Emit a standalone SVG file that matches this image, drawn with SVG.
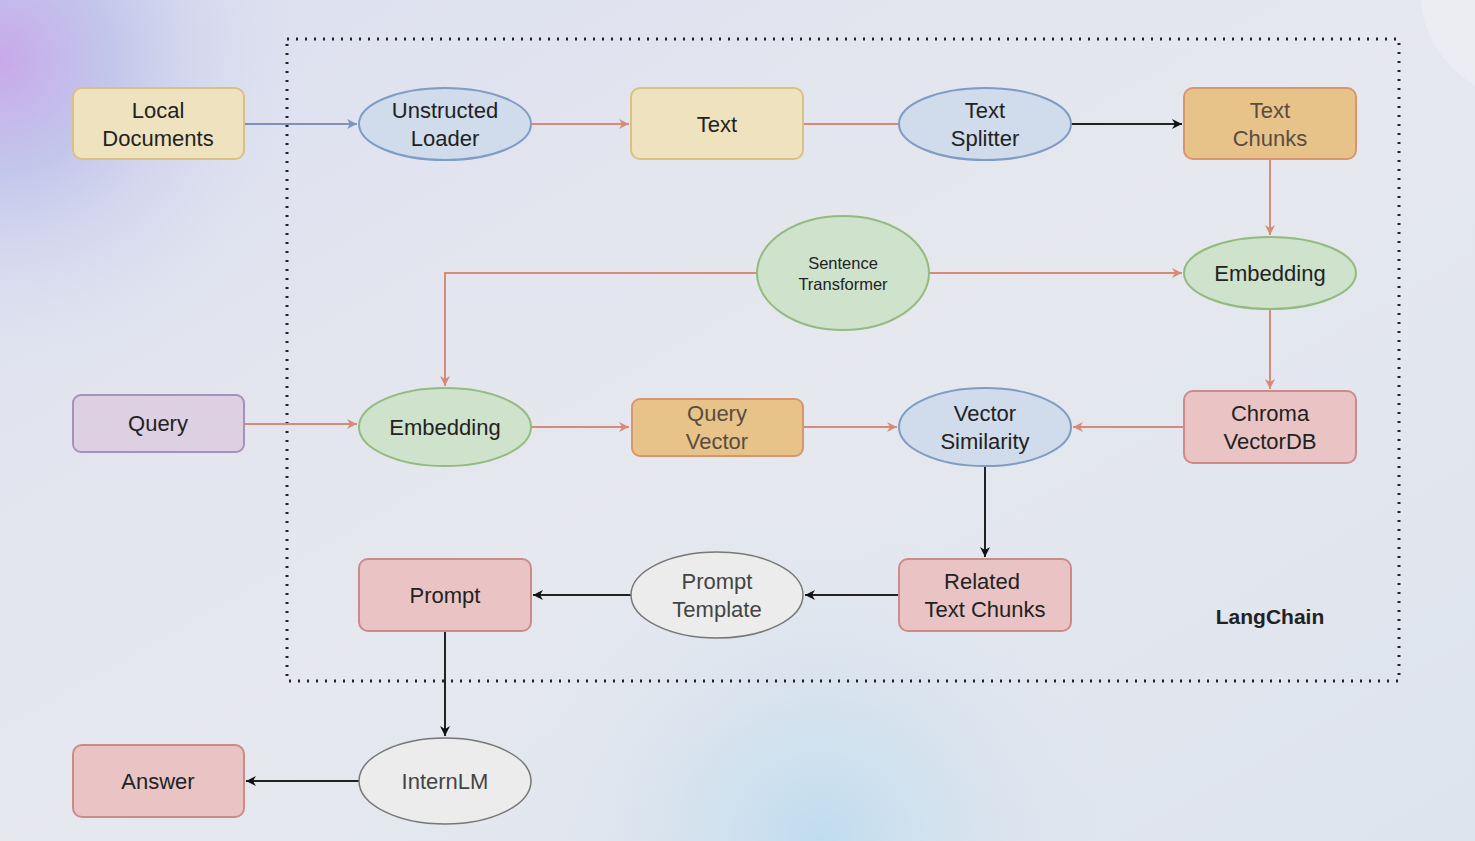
<svg xmlns="http://www.w3.org/2000/svg" width="1475" height="841" viewBox="0 0 1475 841">
  <defs>
    <linearGradient id="bg" x1="0" y1="0" x2="1" y2="1">
      <stop offset="0" stop-color="#dcdff0"/>
      <stop offset="0.5" stop-color="#e6e8ee"/>
      <stop offset="1" stop-color="#dde4ee"/>
    </linearGradient>
    <radialGradient id="purple" cx="0" cy="60" r="320" gradientUnits="userSpaceOnUse">
      <stop offset="0" stop-color="#c9a8ea"/>
      <stop offset="0.35" stop-color="#bcc0ea" stop-opacity="0.8"/>
      <stop offset="1" stop-color="#dfe2f0" stop-opacity="0"/>
    </radialGradient>
    <radialGradient id="blue" cx="820" cy="841" r="320" gradientUnits="userSpaceOnUse">
      <stop offset="0" stop-color="#bfdcef"/>
      <stop offset="1" stop-color="#dfe6ef" stop-opacity="0"/>
    </radialGradient>
    <marker id="aSal" viewBox="0 0 10 10" refX="10" refY="5" markerWidth="10" markerHeight="10" markerUnits="userSpaceOnUse" orient="auto">
      <path d="M0,0 L10,5 L0,10 L3,5 Z" fill="#d98a76"/>
    </marker>
    <marker id="aBlue" viewBox="0 0 10 10" refX="10" refY="5" markerWidth="10" markerHeight="10" markerUnits="userSpaceOnUse" orient="auto">
      <path d="M0,0 L10,5 L0,10 L3,5 Z" fill="#7b93bb"/>
    </marker>
    <marker id="aBlk" viewBox="0 0 10 10" refX="10" refY="5" markerWidth="10" markerHeight="10" markerUnits="userSpaceOnUse" orient="auto">
      <path d="M0,0 L10,5 L0,10 L3,5 Z" fill="#111"/>
    </marker>
  </defs>
  <style>
    text { font-family: "Liberation Sans", Arial, sans-serif; font-size: 22px; fill: #222; text-anchor: middle; }
    .dim { fill: #5a4c40; }
    .small { font-size: 16.5px; }
    .bold { font-weight: bold; font-size: 21px; }
    .yellow { fill: #efe3bf; stroke: #d8c283; stroke-width: 2; }
    .orange { fill: #e7c38a; stroke: #d9956e; stroke-width: 2; }
    .pink { fill: #eac4c4; stroke: #cc8a88; stroke-width: 2; }
    .purple { fill: #ddd0e2; stroke: #a891b6; stroke-width: 2; }
    .blue { fill: #d0dcec; stroke: #7e9cc4; stroke-width: 2; }
    .green { fill: #cfe2cc; stroke: #93bb80; stroke-width: 2; }
    .gray { fill: #ececec; stroke: #777; stroke-width: 1.5; }
    .sal { stroke: #d98a76; stroke-width: 2; fill: none; }
    .blk { stroke: #222; stroke-width: 2; fill: none; }
    .bl { stroke: #7b93bb; stroke-width: 2; fill: none; }
  </style>

  <rect x="0" y="0" width="1475" height="841" fill="url(#bg)"/>
  <rect x="0" y="0" width="1475" height="841" fill="url(#purple)"/>
  <rect x="0" y="0" width="1475" height="841" fill="url(#blue)"/>
  <circle cx="1530" cy="-10" r="110" fill="#eceef3" opacity="0.8"/>

  <rect id="langchain-box" x="287" y="39" width="1112" height="642" fill="none" stroke="#222" stroke-width="3" stroke-dasharray="2 7"/>

  <g id="connectors">
    <path class="bl" d="M244,124 L357,124" marker-end="url(#aBlue)"/>
    <path class="sal" d="M531,124 L629,124" marker-end="url(#aSal)"/>
    <path class="sal" d="M803,124 L899,124"/>
    <path class="blk" d="M1071,124 L1182,124" marker-end="url(#aBlk)"/>
    <path class="sal" d="M1270,159 L1270,235" marker-end="url(#aSal)"/>
    <path class="sal" d="M929,273 L1182,273" marker-end="url(#aSal)"/>
    <path class="sal" d="M757,273 L445,273 L445,386" marker-end="url(#aSal)"/>
    <path class="sal" d="M1270,309 L1270,389" marker-end="url(#aSal)"/>
    <path class="sal" d="M244,424 L357,424" marker-end="url(#aSal)"/>
    <path class="sal" d="M531,427 L629,427" marker-end="url(#aSal)"/>
    <path class="sal" d="M803,427 L897,427" marker-end="url(#aSal)"/>
    <path class="sal" d="M1184,427 L1073,427" marker-end="url(#aSal)"/>
    <path class="blk" d="M985,466 L985,557" marker-end="url(#aBlk)" stroke-width="1.5"/>
    <path class="blk" d="M899,595 L805,595" marker-end="url(#aBlk)"/>
    <path class="blk" d="M631,595 L533,595" marker-end="url(#aBlk)"/>
    <path class="blk" d="M445,631 L445,736" marker-end="url(#aBlk)" stroke-width="1.5"/>
    <path class="blk" d="M359,781 L246,781" marker-end="url(#aBlk)"/>
  </g>

  <g id="local-documents">
    <rect class="yellow" x="73" y="88" width="171" height="71" rx="9"/>
    <text x="158" y="118">Local</text>
    <text x="158" y="146">Documents</text>
  </g>
  <g id="unstructed-loader">
    <ellipse class="blue" cx="445" cy="124" rx="86" ry="36"/>
    <text x="445" y="118">Unstructed</text>
    <text x="445" y="146">Loader</text>
  </g>
  <g id="text">
    <rect class="yellow" x="631" y="88" width="172" height="71" rx="9"/>
    <text x="717" y="132">Text</text>
  </g>
  <g id="text-splitter">
    <ellipse class="blue" cx="985" cy="124" rx="86" ry="36"/>
    <text x="985" y="118">Text</text>
    <text x="985" y="146">Splitter</text>
  </g>
  <g id="text-chunks">
    <rect class="orange" x="1184" y="88" width="172" height="71" rx="9"/>
    <text class="dim" x="1270" y="118">Text</text>
    <text class="dim" x="1270" y="146">Chunks</text>
  </g>
  <g id="sentence-transformer">
    <ellipse class="green" cx="843" cy="273" rx="86" ry="57"/>
    <text class="small" x="843" y="269">Sentence</text>
    <text class="small" x="843" y="290">Transformer</text>
  </g>
  <g id="embedding-docs">
    <ellipse class="green" cx="1270" cy="273" rx="86" ry="36"/>
    <text x="1270" y="281">Embedding</text>
  </g>
  <g id="query">
    <rect class="purple" x="73" y="395" width="171" height="57" rx="8"/>
    <text x="158" y="431">Query</text>
  </g>
  <g id="embedding-query">
    <ellipse class="green" cx="445" cy="427" rx="86" ry="39"/>
    <text x="445" y="435">Embedding</text>
  </g>
  <g id="query-vector">
    <rect class="orange" x="632" y="399" width="171" height="57" rx="8"/>
    <text class="dim" x="717" y="421">Query</text>
    <text class="dim" x="717" y="449">Vector</text>
  </g>
  <g id="vector-similarity">
    <ellipse class="blue" cx="985" cy="427" rx="86" ry="39"/>
    <text x="985" y="421">Vector</text>
    <text x="985" y="449">Similarity</text>
  </g>
  <g id="chroma-vectordb">
    <rect class="pink" x="1184" y="391" width="172" height="72" rx="9"/>
    <text x="1270" y="421">Chroma</text>
    <text x="1270" y="449">VectorDB</text>
  </g>
  <g id="related-text-chunks">
    <rect class="pink" x="899" y="559" width="172" height="72" rx="9"/>
    <text x="982" y="589">Related</text>
    <text x="985" y="617">Text Chunks</text>
  </g>
  <g id="prompt-template">
    <ellipse class="gray" cx="717" cy="595" rx="86" ry="43"/>
    <text class="dim" x="717" y="589" style="fill:#444">Prompt</text>
    <text class="dim" x="717" y="617" style="fill:#444">Template</text>
  </g>
  <g id="prompt">
    <rect class="pink" x="359" y="559" width="172" height="72" rx="9"/>
    <text x="445" y="603">Prompt</text>
  </g>
  <g id="internlm">
    <ellipse class="gray" cx="445" cy="781" rx="86" ry="43"/>
    <text x="445" y="789" style="fill:#444">InternLM</text>
  </g>
  <g id="answer">
    <rect class="pink" x="73" y="745" width="171" height="72" rx="9"/>
    <text x="158" y="789">Answer</text>
  </g>
  <text class="bold" x="1270" y="624">LangChain</text>
</svg>
